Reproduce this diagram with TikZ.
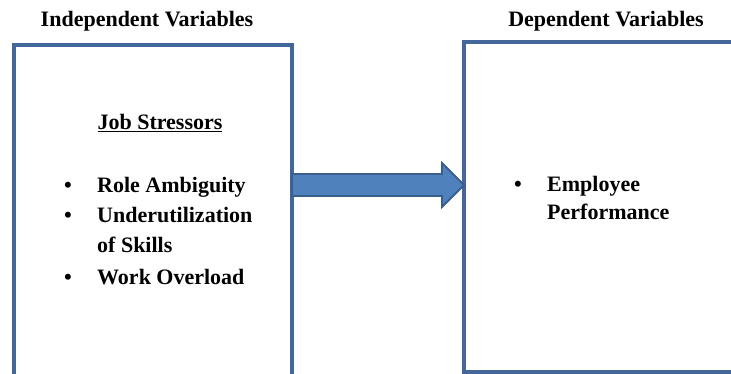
\documentclass[tikz,border=0pt]{standalone}
\usepackage{fontspec}
\setmainfont{Liberation Serif}
\usetikzlibrary{calc}
\definecolor{boxblue}{RGB}{66,103,152}
\definecolor{arrowfill}{RGB}{79,129,189}
\definecolor{arrowedge}{RGB}{58,95,142}
\begin{document}
\begin{tikzpicture}[x=1pt,y=-1pt,
  frame/.style={draw=boxblue, line width=3.5pt, inner sep=0pt, outer sep=0pt, anchor=north west},
  txt/.style={font=\fontsize{22}{26}\selectfont\bfseries, inner sep=0pt, anchor=base},
  itemtext/.style={txt, anchor=base west},
  arrowbody/.style={fill=arrowfill, draw=arrowedge, line width=1.8pt, line join=miter}]
\useasboundingbox (0,0) rectangle (731,374);
\clip (0,0) rectangle (731,374);
\fill[white] (0,0) rectangle (731,374);

% the two variable boxes (both run past the lower/right edge)
\node[frame, minimum width=278pt, minimum height=345pt] (indep) at (14,45) {};
\node[frame, minimum width=300pt, minimum height=330pt] (dep) at (464,42) {};

% block arrow from the independent to the dependent box
\coordinate (lvl) at (0,185);
\draw[arrowbody] ($(indep.east |- lvl)+(0,-11)$) -- ($(dep.west |- lvl)+(-22,-11)$)
  -- ++(0,-11) -- (dep.west |- lvl) -- ++(-22,22) -- ++(0,-11)
  -- ($(indep.east |- lvl)+(0,11)$) -- cycle;

% headings
\node[txt] (indeptitle) at (147,27) {Independent Variables};
\node[txt] (deptitle) at (606,27) {Dependent Variables};

% job stressors list
\node[txt] (stressors) at (160,130) {\underline{Job Stressors}};
\node[txt] (b1) at (68,193) {•};
\node[itemtext] (role) at (97,193) {Role Ambiguity};
\node[txt] (b2) at (68,223) {•};
\node[itemtext] (under) at (97,223) {Underutilization};
\node[itemtext] (skills) at (97,252) {of Skills};
\node[txt] (b3) at (68,284) {•};
\node[itemtext] (work) at (97,284) {Work Overload};

% outcome
\node[txt] (b4) at (518,192) {•};
\node[itemtext] (employee) at (547,192) {Employee};
\node[itemtext] (perf) at (547,220) {Performance};
\end{tikzpicture}
\end{document}
